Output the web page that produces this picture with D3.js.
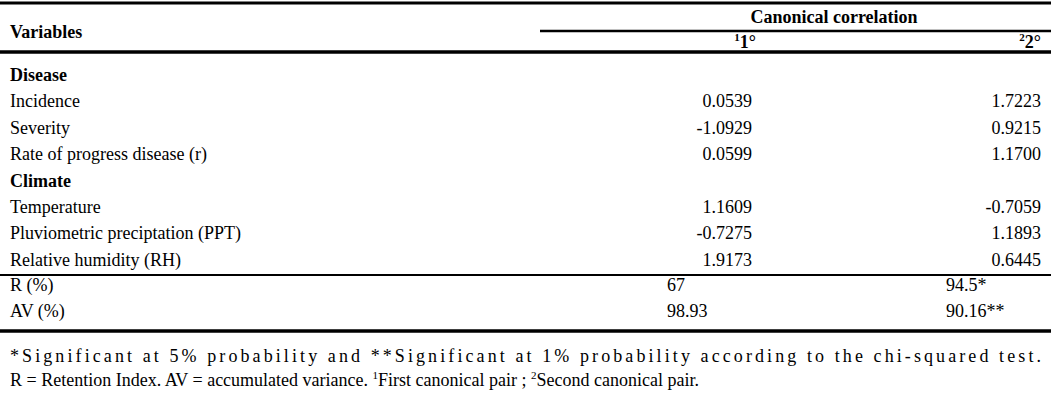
<!DOCTYPE html><html><head><meta charset="utf-8">
<script src="https://cdn.jsdelivr.net/npm/d3@7"></script>
<style>body{margin:0;background:#fff}svg text,svg tspan{font-family:'Liberation Serif','Times New Roman',Times,'DejaVu Serif',serif;fill:#000}</style>
</head><body><svg id="c" width="1051" height="402" font-family="Liberation Serif, Times New Roman, serif"></svg>
<script>
const diseaseVars=["Incidence","Severity","Rate of progress disease (r)"];
const diseaseC1=["0.0539","-1.0929","0.0599"];
const diseaseC2=["1.7223","0.9215","1.1700"];
const climateVars=["Temperature","Pluviometric preciptation (PPT)","Relative humidity (RH)"];
const climateC1=["1.1609","-0.7275","1.9173"];
const climateC2=["-0.7059","1.1893","0.6445"];
const statVars=["R (%)","AV (%)"];
const statC1=["67","98.93"];
const statC2=["94.5*","90.16**"];
const svg=d3.select("#c");
const line=(x1,x2,y,w)=>svg.append("line").attr("x1",x1).attr("x2",x2).attr("y1",y).attr("y2",y).attr("stroke","#000").attr("stroke-width",w);
const txt=(x,y,s,o={})=>{const t=svg.append("text").attr("x",x).attr("y",y).attr("font-size",o.fs||18).text(s);if(o.b)t.attr("font-weight","bold");if(o.a)t.attr("text-anchor",o.a);return t;};
line(0,1051,3,3);line(540,1051,31,2.5);line(0,1051,52,3.5);line(0,1051,275,2);line(0,1051,331,3.5);
txt(10,38,"Variables",{b:1});
txt(834,23,"Canonical correlation",{b:1,a:"middle"});
[[745,"1"],[1030,"2"]].forEach(([x,n])=>{const t=txt(x,48,"",{b:1,a:"middle"});t.append("tspan").attr("font-size",11).attr("dy",-7).text(n);t.append("tspan").attr("dy",7).text(n+"°");});
const rowY=d3.scaleLinear().domain([0,1]).range([81,107.4]);
let r=0;
function section(title,vars,c1,c2){txt(10,rowY(r++),title,{b:1});vars.forEach((v,i)=>{const y=rowY(r++);txt(10,y,v);txt(752,y,c1[i],{a:"end"});txt(1041,y,c2[i],{a:"end"});});}
section("Disease",diseaseVars,diseaseC1,diseaseC2);
section("Climate",climateVars,climateC1,climateC2);
statVars.forEach((v,i)=>{const y=291+i*26;txt(10,y,v);txt(667,y,statC1[i]);txt(946,y,statC2[i]);});
txt(10,362,"*Significant at 5% probability and **Significant at 1% probability according to the chi-squared test.").attr("textLength",1031).attr("lengthAdjust","spacing");
const f=txt(10,386,"R = Retention Index. AV = accumulated variance. ");
f.append("tspan").attr("font-size",11).attr("dy",-7).text("1");f.append("tspan").attr("dy",7).text("First canonical pair ; ");
f.append("tspan").attr("font-size",11).attr("dy",-7).text("2");f.append("tspan").attr("dy",7).text("Second canonical pair.");
</script></body></html>
